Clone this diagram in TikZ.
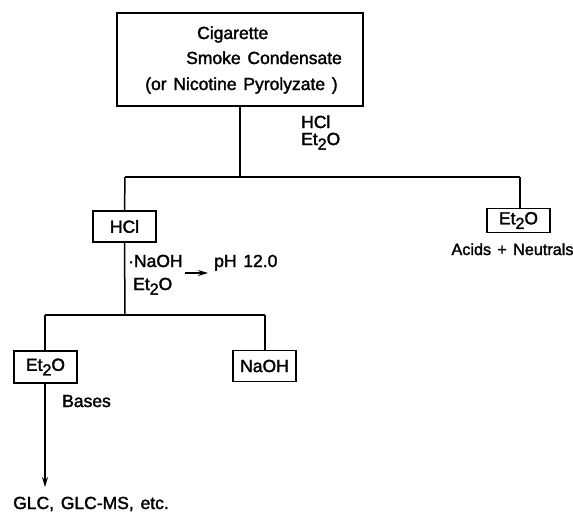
\documentclass[tikz,border=0pt]{standalone}
\usepackage{fontspec}
\setmainfont{Liberation Sans}[WordSpace=1.4,FakeBold=1.8]
\usetikzlibrary{arrows.meta}
\newcommand\etwo{Et\raisebox{-0.5ex}{\fontsize{16}{16}\selectfont 2}O}
\begin{document}
\begin{tikzpicture}[x=1pt,y=-1pt,
  every node/.style={font=\fontsize{17.5}{19}\selectfont},
  lbl/.style={inner sep=0pt, anchor=base west},
  boxnode/.style={draw, line width=1.5pt, inner sep=0pt, minimum width=63pt, minimum height=31pt},
  conn/.style={line width=1.5pt},
  arr/.style={line width=1.5pt, -{Stealth[length=10pt,width=6pt]}}
]
\useasboundingbox (0,0) rectangle (573,512);
% top box
\node[draw, line width=1.5pt, minimum width=246pt, minimum height=93pt, inner sep=0pt] (top) at (240,59.5) {};
\node[lbl] (t1) at (197,39) {Cigarette};
\node[lbl] (t2) at (186,64) {Smoke Condensate};
\node[lbl] (t3) at (145,90) {(or Nicotine Pyrolyzate )};
% first split
\coordinate (j1) at (240,177);
\coordinate (jl) at (125,177);
\coordinate (jr) at (520,177);
\node[lbl] (r1) at (301,128) {HCl};
\node[lbl] (r2) at (301,145) {\etwo};
\node[boxnode] (hcl) at (124.5,226.5) {HCl\hspace{12pt}};
\node[boxnode, minimum height=24pt] (et1) at (518.5,220.5) {\etwo};
\node[inner sep=0pt, anchor=base, font=\fontsize{16.2}{18}\selectfont] (acid) at (512.5,255) {Acids + Neutrals};
\draw[conn] (top.south) -- (j1);
\draw[conn] (jl) -- (jr);
\draw[conn] (jl) -- (hcl.north);
\draw[conn] (jr) -- (et1.north -| jr);
% second split
\node[lbl] (naoh) at (128,267) {·NaOH};
\node[lbl] (ph) at (214,267) {pH 12.0};
\node[lbl] (r3) at (133,290) {\etwo};
\draw[arr] ([xshift=2pt,yshift=-6pt]naoh.base east) -- ([xshift=-6pt,yshift=-6pt]ph.base west);
\coordinate (j2) at (125,315);
\coordinate (jl2) at (45,315);
\coordinate (jr2) at (265,315);
\node[boxnode, minimum height=32pt] (et2) at (45.5,367) {\etwo\hspace{17pt}};
\node[boxnode] (naohbox) at (264.5,366) {NaOH};
\draw[conn] (hcl.south) -- (j2);
\draw[conn] (jl2) -- (jr2);
\draw[conn] (jl2) -- (et2.north -| jl2);
\draw[conn] (jr2) -- (naohbox.north -| jr2);
\node[lbl] (bases) at (62,407) {Bases};
\node[lbl] (glc) at (13,509) {GLC, GLC-MS, etc.};
\coordinate (tip) at (45,487);
\draw[arr] (et2.south -| tip) -- (tip);
\end{tikzpicture}
\end{document}
